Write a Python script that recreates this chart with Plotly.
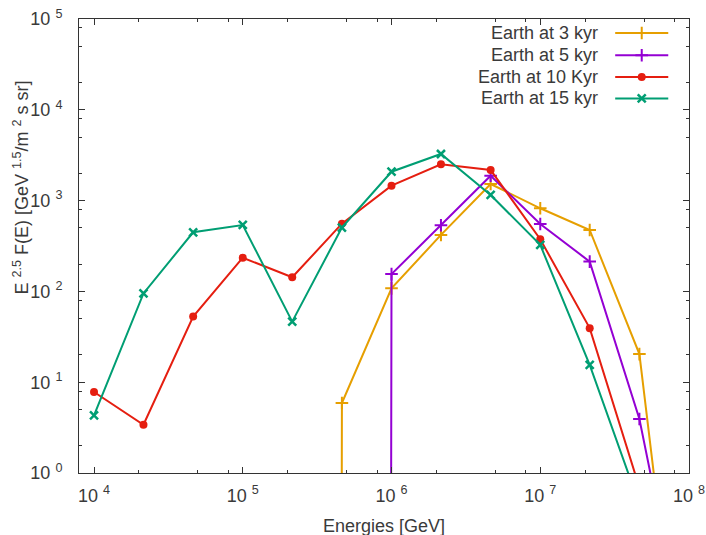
import plotly.graph_objects as go

# Energy grid [GeV], one point every third of a decade
energies = [1e4, 2.15e4, 4.64e4, 1e5, 2.15e5, 4.64e5, 1e6, 2.15e6,
            4.64e6, 1e7, 2.15e7, 4.64e7, 1e8]

# E^2.5 F(E) for each epoch (1e-300 stands for a vanishing flux)
flux_3kyr = [1e-300, 1e-300, 1e-300, 1e-300, 1e-300, 5.9, 108, 419,
             1523, 823, 475, 20.4, 6e-4]
flux_5kyr = [1e-300, 1e-300, 1e-300, 1e-300, 1e-300, 1e-300, 155, 535,
             1880, 553, 213, 3.93, 8e-3]
flux_10kyr = [7.8, 3.4, 52.8, 235, 143, 557, 1460, 2506,
              2170, 375, 39.4, 0.69, 1e-3]
flux_15kyr = [4.3, 95, 448, 539, 46.5, 505, 2080, 3260,
              1153, 325, 15.5, 0.45, 1e-3]

labels = ["Earth at 3 kyr", "Earth at 5 kyr", "Earth at 10 Kyr", "Earth at 15 kyr"]
series = [flux_3kyr, flux_5kyr, flux_10kyr, flux_15kyr]

x_tickvals = [1e4, 1e5, 1e6, 1e7, 1e8]
y_tickvals = [1e0, 1e1, 1e2, 1e3, 1e4, 1e5]

colors = ["#e69f00", "#9400d3", "#e51e10", "#009e73"]
markers = [
    dict(symbol="cross-thin", size=9, line=dict(width=2)),
    dict(symbol="cross-thin", size=9, line=dict(width=2)),
    dict(symbol="circle", size=8, line=dict(width=0)),
    dict(symbol="x-thin", size=8, line=dict(width=2.5)),
]

FONT = "Liberation Sans, Arial, sans-serif"
TEXT = "#3a3a3a"
FS = 18

fig = go.Figure()

for lab, ys, c, m in zip(labels, series, colors, markers):
    mk = dict(m, color=c)
    mk["line"] = dict(m["line"], color=c)
    fig.add_trace(go.Scatter(
        x=energies, y=ys, mode="lines+markers", name=lab,
        line=dict(color=c, width=2), marker=mk, showlegend=False,
    ))

# Key: text on the left, line sample with its point symbol on the right
key_rows = [0.969, 0.920, 0.872, 0.825]
for lab, c, m, yk in zip(labels, colors, markers, key_rows):
    mk = dict(m, color=c)
    mk["line"] = dict(m["line"], color=c)
    fig.add_trace(go.Scatter(
        x=[0.879, 0.966], y=[yk, yk], mode="lines", xaxis="x2", yaxis="y2",
        line=dict(color=c, width=2), showlegend=False, hoverinfo="skip",
    ))
    fig.add_trace(go.Scatter(
        x=[0.9225], y=[yk], mode="markers", xaxis="x2", yaxis="y2",
        marker=mk, showlegend=False, hoverinfo="skip",
    ))
    fig.add_annotation(
        x=0.854, y=yk, xref="x2", yref="y2", text=lab, showarrow=False,
        xanchor="right", yanchor="middle",
        font=dict(family=FONT, size=FS, color=TEXT),
    )

axis_common = dict(
    type="log", showgrid=False, zeroline=False, showline=True,
    automargin=False,
    linecolor="#333333", linewidth=1, mirror="allticks",
    ticks="inside", ticklen=6, tickcolor="#333333", tickwidth=1,
    tickfont=dict(family=FONT, size=FS, color=TEXT),
    minor=dict(ticks="inside", ticklen=3, tickcolor="#333333", tickwidth=1),
)

fig.update_layout(
    template="none",
    width=706, height=535,
    margin=dict(l=79, r=17, t=19, b=62, autoexpand=False),
    paper_bgcolor="white", plot_bgcolor="white",
    xaxis=dict(
        axis_common, range=[3.899, 8],
        tickmode="array", tickvals=x_tickvals,
        ticktext=["10 <sup>%d</sup>" % e for e in range(4, 9)],
        ticklabelstandoff=6,
        minor=dict(axis_common["minor"], tickmode="array",
                   tickvals=[m * 10 ** d for d in range(3, 8) for m in (2, 5, 8)]),
    ),
    yaxis=dict(
        axis_common, range=[0, 5],
        tickmode="array", tickvals=y_tickvals,
        ticktext=["10 <sup>%d</sup>" % e for e in range(0, 6)],
        ticklabelstandoff=12,
        minor=dict(axis_common["minor"], tickmode="array",
                   tickvals=[m * 10 ** d for d in range(0, 5) for m in (2, 5, 8)]),
    ),
    xaxis2=dict(overlaying="x", range=[0, 1], visible=False, fixedrange=True,
                automargin=False),
    yaxis2=dict(overlaying="y", range=[0, 1], visible=False, fixedrange=True,
                automargin=False),
    showlegend=False,
)

fig.add_annotation(
    x=-0.094, y=0.628, xref="paper", yref="paper", textangle=-90,
    text="E <sup>2.5</sup> F(E) [GeV <sup>1.5</sup>/m <sup>2</sup> s sr]",
    showarrow=False, xanchor="center", yanchor="middle",
    font=dict(family=FONT, size=FS, color=TEXT),
)
fig.add_annotation(
    x=0.5, y=-0.1165, xref="paper", yref="paper", text="Energies [GeV]",
    showarrow=False, xanchor="center", yanchor="middle",
    font=dict(family=FONT, size=FS, color=TEXT),
)

fig.write_html("out.html")
